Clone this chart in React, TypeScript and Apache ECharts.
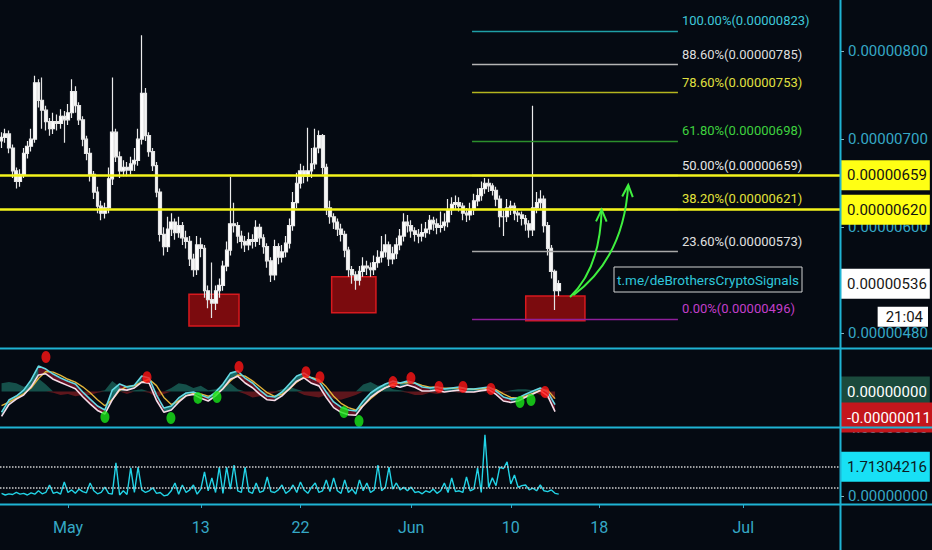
import React, { useEffect, useRef } from "react";
import * as echarts from "echarts";

// ---------- DATA (price values in units of 1e-8) ----------
const CANDLE_START_DAY = -6; // Apr 25, days counted from May 1
const CANDLES_PER_DAY = 3;
const firstOpen = 698;
const closes = [
  702, 706, 690, 664, 652, 660, 684, 692, 700, 764,
  744, 733, 720, 712, 720, 718, 726, 722, 730, 754,
  738, 722, 700, 684, 660, 640, 624, 616, 622, 655,
  708, 680, 664, 668, 665, 672, 676, 700, 752, 704,
  686, 670, 640, 592, 578, 598, 606, 594, 602, 588,
  584, 564, 552, 580, 576, 528, 518, 514, 528, 534,
  556, 574, 604, 602, 590, 584, 580, 586, 584, 600,
  588, 578, 562, 546, 578, 566, 572, 582, 602, 628,
  650, 664, 658, 664, 672, 690, 704, 668, 622, 612,
  606, 598, 592, 574, 552, 546, 540, 550, 556, 554,
  552, 560, 566, 572, 580, 564, 570, 580, 590, 606,
  602, 596, 592, 590, 594, 598, 608, 604, 600, 602,
  606, 620, 626, 628, 624, 616, 614, 620, 630, 636,
  644, 650, 647, 642, 632, 612, 612, 622, 624, 616,
  614, 610, 604, 597, 622, 628, 632, 602, 576, 550,
  528, 536,
];
const highs = [
  708, 712, 710, 694, 668, 666, 690, 698, 712, 772,
  768, 770, 738, 724, 730, 728, 734, 732, 740, 768,
  760, 742, 726, 704, 690, 664, 646, 630, 628, 668,
  770, 712, 686, 676, 674, 680, 690, 712, 818, 758,
  708, 690, 674, 644, 600, 612, 616, 610, 612, 606,
  596, 590, 570, 590, 588, 580, 534, 560, 534, 542,
  562, 584, 657, 628, 606, 596, 590, 594, 592, 608,
  604, 592, 582, 566, 586, 582, 580, 590, 610, 640,
  662, 672, 670, 713, 690, 712, 710, 706, 672, 630,
  616, 610, 604, 596, 578, 556, 550, 556, 566, 562,
  560, 568, 574, 590, 592, 584, 578, 588, 598, 616,
  614, 608, 600, 598, 604, 606, 614, 612, 610, 618,
  616, 632, 634, 636, 634, 628, 622, 628, 638, 644,
  652, 656, 655, 650, 646, 636, 620, 632, 630, 628,
  620, 618, 614, 608, 738, 640, 642, 636, 606, 580,
  552, 540,
];
const lows = [
  690, 696, 684, 656, 644, 646, 656, 678, 686, 696,
  736, 712, 710, 704, 706, 710, 712, 696, 716, 724,
  730, 716, 692, 676, 652, 632, 616, 608, 610, 616,
  648, 674, 656, 658, 658, 660, 664, 670, 694, 698,
  680, 664, 634, 584, 568, 572, 590, 586, 588, 580,
  576, 556, 544, 546, 566, 520, 508, 497, 506, 520,
  528, 550, 568, 594, 582, 576, 572, 574, 576, 578,
  580, 570, 554, 538, 540, 558, 560, 566, 576, 596,
  622, 644, 650, 652, 656, 666, 684, 660, 614, 604,
  598, 590, 584, 566, 544, 536, 529, 534, 544, 546,
  544, 546, 554, 560, 566, 556, 558, 564, 574, 584,
  594, 588, 584, 582, 584, 588, 592, 596, 592, 594,
  596, 600, 614, 620, 618, 608, 606, 608, 614, 624,
  630, 638, 640, 636, 624, 600, 590, 606, 614, 608,
  606, 602, 596, 588, 590, 616, 620, 594, 568, 542,
  506, 522,
];

// oscillator (units of 1e-8), one point every 2 candles
const OSC_STEP_CANDLES = 2;
const oscFast = [
  -8.7, -3.6, -1.9, 0.6, 4.9, 10.8, 9.5, 7.4, 5.7, 4.4,
  3.2, -0.2, -3.2, -6.1, -7.8, 0.6, 3.2, 1.9, 2.7, 6.6,
  5.7, -1.5, -7.0, -6.1, -2.7, -0.6, -0.2, -1.5, -2.7, -0.2,
  3.2, 7.8, 8.7, 5.7, 3.6, 0.6, -1.9, -2.3, -0.2, 3.2,
  6.6, 7.8, 5.7, 4.4, -0.2, -4.4, -6.6, -7.8, -8.2, -4.0,
  -0.6, 1.5, 3.2, 4.4, 3.6, 4.4, 3.6, 1.9, 1.5, 1.9,
  1.1, 1.5, 1.9, 1.1, 1.1, 1.5, 1.9, 0.2, -2.3, -3.2,
  -2.7, -1.1, 0.2, 1.5, -0.2, -5.5,
];
const oscSlow = [
  -10.5, -5.5, -3.2, -1.5, 2.0, 7.0, 7.5, 5.2, 3.8, 2.5,
  1.2, -2.2, -5.2, -8.0, -9.5, -3.5, 1.0, 0.6, 1.5, 4.0,
  3.5, -3.8, -8.8, -7.8, -4.5, -1.8, -1.2, -2.8, -4.0, -1.8,
  1.2, 5.2, 6.5, 3.6, 1.6, -1.2, -3.5, -3.8, -1.8, 1.2,
  4.4, 5.8, 3.5, 2.4, -2.5, -6.8, -8.8, -9.8, -10.0, -6.0,
  -2.5, -0.2, 1.6, 2.8, 1.8, 2.8, 1.8, 0.2, 0.2, 0.6,
  -0.2, 0.2, 0.6, -0.2, -0.2, 0.4, 0.8, -1.2, -4.0, -4.6,
  -4.0, -2.4, -1.0, 0.4, -1.8, -8.5,
];
const oscSignal = [
  -6.0, -4.5, -2.8, -1.0, 1.5, 5.5, 8.5, 8.2, 6.8, 5.2,
  4.0, 2.0, -0.5, -3.5, -6.0, -3.5, 0.5, 2.2, 2.4, 4.0,
  5.2, 2.5, -2.5, -5.5, -4.0, -1.8, -0.8, -1.0, -2.0, -1.2,
  1.2, 4.5, 7.0, 6.5, 4.5, 2.0, -0.5, -2.0, -1.2, 1.0,
  4.0, 6.2, 6.0, 5.0, 2.0, -2.0, -5.0, -6.8, -7.8, -6.0,
  -3.0, -0.5, 1.6, 3.2, 3.6, 3.8, 3.6, 2.6, 1.8, 1.8,
  1.4, 1.4, 1.6, 1.2, 1.0, 1.2, 1.6, 0.8, -1.0, -2.5,
  -2.8, -2.0, -0.8, 0.6, 0.6, -3.0,
];
const oscHist = [
  3.5, 4.0, 3.5, 2.0, 3.0, 5.5, 3.0, -0.5, -1.5, -1.0,
  -2.0, -1.5, -1.5, -0.5, 0.5, 4.5, 2.0, -1.0, 0.5, 1.0,
  -0.5, -2.5, -1.0, 1.5, 3.5, 3.0, 1.5, 2.5, 0.5, 1.0,
  2.5, 3.5, 1.0, -1.0, -2.5, -2.0, -1.5, -0.5, 1.0, 2.0,
  1.0, -1.5, -2.0, -2.5, -1.5, -3.0, -3.5, -2.5, -1.5, 3.0,
  4.0, 2.5, 3.0, 1.0, 0.5, -0.5, -1.5, -1.5, -0.5, -1.0,
  -0.5, 0.5, -0.5, 0.5, -0.5, 0.5, -0.5, -1.0, -0.5, 0.5,
  1.0, 1.0, 0.5, -1.5, -3.0, -3.0,
];
// signal dots: [day, value]
const sellDots = [
  [-1.99, 14.6], [7.14, 6.1], [15.45, 10.4], [21.5, 8.2], [22.76, 6.1],
  [29.36, 4.0], [30.98, 5.7], [33.51, 1.9], [35.68, 1.9], [38.21, 1.1], [43.09, -0.2],
];
const buyDots = [
  [3.34, -10.8], [9.3, -11.2], [11.74, -2.7], [13.46, -2.3],
  [24.93, -8.7], [26.29, -12.5], [40.83, -4.4], [41.83, -3.6],
];
const oscZero = 0;
const oscLast = -11;

// lower indicator, one value per candle
const volume = [
  0.15, 0.05, 0.12, 0.08, 0.2, 0.1, 0.15, 0.05, 0.18, 0.1,
  0.3, 0.12, 0.2, 0.64, 0.15, 0.22, 0.1, 0.82, 0.2, 0.35,
  0.15, 0.4, 0.25, 0.18, 0.76, 0.3, 0.12, 0.2, 0.52, 0.15,
  0.1, 1.94, 0.05, 0.3, 0.08, 1.65, 0.2, 1.7, 0.35, 0.2,
  0.3, 0.47, 0.15, 0.2, 0.0, 0.05, 0.3, 0.76, 0.1, 0.64,
  0.2, 0.35, 0.64, 0.1, 0.4, 1.41, 0.3, 1.06, 0.2, 1.7,
  0.15, 1.7, 0.4, 1.82, 0.3, 0.2, 1.7, 0.25, 0.15, 0.76,
  0.2, 0.3, 1.11, 0.25, 0.2, 0.35, 0.64, 0.15, 0.3, 0.64,
  0.2, 0.82, 0.35, 0.15, 0.5, 0.76, 0.2, 0.3, 0.94, 0.25,
  1.06, 0.3, 0.15, 0.94, 0.2, 0.4, 0.1, 0.94, 0.3, 0.76,
  0.2, 0.35, 1.82, 0.3, 0.5, 1.7, 0.4, 0.76, 0.35, 0.5,
  0.3, 0.52, 0.2, 0.25, 0.12, 0.3, 0.2, 0.4, 0.15, 0.3,
  0.76, 0.2, 1.06, 0.25, 0.3, 0.2, 1.11, 0.3, 0.4, 1.65,
  0.2, 3.6, 0.5, 1.06, 0.6, 1.7, 1.6, 2.0, 0.7, 1.23,
  0.5, 0.6, 0.64, 0.35, 0.45, 0.3, 0.64, 0.3, 0.25, 0.35,
  0.15, 0.1,
];
const volUpperBand = 1.71304216;
const volLowerBand = 0.5;

// axes
const X_MIN_DAY = -6.14;
const X_MAX_DAY = 69.74;
const xTickDays = [0, 12, 21, 31, 40, 48, 61];
const xTickLabels = ["May", "13", "22", "Jun", "10", "18", "Jul"];
const priceTicks = [800, 700, 600, 480];
const PRICE_MIN = 463;
const PRICE_MAX = 858;
const OSC_MIN = -15;
const OSC_MAX = 18;
const VOL_MIN = -0.48;
const VOL_MAX = 4;
const volTicks = [0, 4];

// fibonacci retracement
const fibStartDay = 36.5;
const fibEndDay = 55.1;
const fibRatios = ["100.00%", "88.60%", "78.60%", "61.80%", "50.00%", "38.20%", "23.60%", "0.00%"];
const fibValues = [823, 785, 753, 698, 659, 621, 573, 496];

// horizontal levels and last price
const resistanceLevels = [659, 620];
const lastPrice = 536;
const countdown = "21:04";

// support zones: [dayFrom, priceTop, dayTo, priceBottom]
const supportZones = [
  [10.93, 524, 15.45, 488],
  [23.82, 544, 27.82, 503],
  [41.35, 522, 46.7, 494],
];
// projection arrows: [start, control, end] as [day, price]
const arrows = [
  [[45.35, 521], [48.06, 553], [48.21, 620]],
  [[45.65, 523], [50.2, 565], [50.61, 648]],
];
const watermark = "t.me/deBrothersCryptoSignals";

// ---------- STYLE ----------
const BG = "#050a12";
const AXIS_TEXT = "#35a8c6";
const SEP = "#1fb3d3";
const FONT = "Roboto, 'Liberation Sans', sans-serif";
const fibLineColors = ["#1f9fa6", "#b4b4b4", "#b5b51f", "#2c8f2c", "#b4b4b4", "#b5b51f", "#a8a8a8", "#8f1f9a"];
const fibTextColors = ["#3fc7d8", "#dedede", "#e0e040", "#3fd23f", "#e6e6e6", "#e3e33a", "#e0e0e0", "#c33fca"];

const candleDay = (i: number) => CANDLE_START_DAY + i / CANDLES_PER_DAY;
const oscDay = (k: number) => candleDay(k * OSC_STEP_CANDLES);
const fmt8 = (v: number) => (v / 1e8).toFixed(8);
const HIDDEN = "rgba(0,0,0,0)";

export default function App() {
  const ref = useRef<HTMLDivElement>(null);

  useEffect(() => {
    document.body.style.margin = "0";
    document.body.style.background = BG;
    const chart = echarts.init(ref.current!, undefined, { renderer: "svg" });

    const candleData = closes.map((c, i) => [
      candleDay(i),
      i === 0 ? firstOpen : closes[i - 1],
      c,
      lows[i],
      highs[i],
    ]);

    const grids = [
      { left: 0, right: 92, top: 0, height: 348 },
      { left: 0, right: 92, top: 349, height: 78 },
      { left: 0, right: 92, top: 428, height: 76 },
    ];

    const baseX = (gridIndex: number, show: boolean) => ({
      type: "value",
      gridIndex,
      min: X_MIN_DAY,
      max: X_MAX_DAY,
      splitLine: { show: false },
      axisLine: { show: false, onZero: false },
      axisTick: show
        ? { show: true, customValues: xTickDays, length: 4, lineStyle: { color: AXIS_TEXT, width: 1 } }
        : { show: false },
      axisLabel: show
        ? {
            show: true,
            customValues: xTickDays,
            margin: 15,
            color: AXIS_TEXT,
            fontSize: 16,
            fontFamily: FONT,
            formatter: (v: number) => {
              const idx = xTickDays.findIndex((d) => Math.abs(d - v) < 1e-6);
              return idx >= 0 ? xTickLabels[idx] : "";
            },
          }
        : { show: false },
    });

    const boxLabel = (text: string, bg: string, color: string) => ({
      show: true,
      position: "end",
      distance: 1,
      formatter: text,
      backgroundColor: bg,
      color,
      fontSize: 15,
      fontFamily: FONT,
      padding: [8, 3, 7, 6],
    });

    const fibMarks = fibValues.map((v, j) => [
      {
        coord: [fibStartDay, v],
        lineStyle: { color: fibLineColors[j], width: 1.3, type: "solid" },
        label: {
          show: true,
          position: "end",
          distance: 4,
          offset: [0, -10],
          formatter: `${fibRatios[j]}(${fmt8(v)})`,
          color: fibTextColors[j],
          fontSize: 13,
          fontFamily: FONT,
        },
      },
      { coord: [fibEndDay, v] },
    ]);

    const option: any = {
      animation: false,
      backgroundColor: BG,
      grid: grids,
      xAxis: [baseX(0, false), baseX(1, false), baseX(2, true)],
      yAxis: [
        {
          type: "value",
          gridIndex: 0,
          position: "right",
          min: PRICE_MIN,
          max: PRICE_MAX,
          splitLine: { show: false },
          axisLine: { show: false, onZero: false },
          axisTick: { show: true, customValues: priceTicks, length: 4, lineStyle: { color: "#8fb5c0" } },
          axisLabel: {
            customValues: priceTicks,
            margin: 8,
            color: AXIS_TEXT,
            fontSize: 15,
            fontFamily: FONT,
            formatter: (v: number) => fmt8(v),
          },
        },
        {
          type: "value",
          gridIndex: 1,
          position: "right",
          min: OSC_MIN,
          max: OSC_MAX,
          splitLine: { show: false },
          axisLine: { show: false, onZero: false },
          axisTick: { show: false },
          axisLabel: { show: false },
        },
        {
          type: "value",
          gridIndex: 2,
          position: "right",
          min: VOL_MIN,
          max: VOL_MAX,
          splitLine: { show: false },
          axisLine: { show: false, onZero: false },
          axisTick: { show: true, customValues: volTicks, length: 4, lineStyle: { color: "#8fb5c0" } },
          axisLabel: {
            customValues: volTicks,
            margin: 8,
            color: AXIS_TEXT,
            fontSize: 15,
            fontFamily: FONT,
            formatter: (v: number) => v.toFixed(8),
          },
        },
      ],
      series: [
        {
          type: "candlestick",
          xAxisIndex: 0,
          yAxisIndex: 0,
          data: candleData,
          encode: { x: 0, y: [1, 2, 3, 4] },
          barWidth: 3.4,
          itemStyle: {
            color: "#ffffff",
            color0: "#f6f6f6",
            borderColor: "#ececec",
            borderColor0: "#e4e4e4",
            borderWidth: 1.2,
          },
          markArea: {
            silent: true,
            itemStyle: {
              color: "rgba(150,12,14,0.82)",
              borderColor: "#d8191e",
              borderWidth: 1.5,
            },
            data: supportZones.map((z) => [{ coord: [z[0], z[1]] }, { coord: [z[2], z[3]] }]),
          },
          markLine: {
            silent: true,
            symbol: ["none", "none"],
            data: [
              ...fibMarks,
              ...resistanceLevels.map((v) => ({
                yAxis: v,
                lineStyle: { color: "#f4f41c", width: 2.5, type: "solid" },
                label: boxLabel(fmt8(v), "#ffff14", "#121212"),
              })),
              {
                yAxis: lastPrice,
                lineStyle: { color: HIDDEN, width: 0 },
                label: boxLabel(fmt8(lastPrice), "#ffffff", "#161616"),
              },
            ],
          },
        },
        {
          type: "line",
          xAxisIndex: 1,
          yAxisIndex: 1,
          data: oscHist.map((h, k) => [oscDay(k), Math.max(0, h)]),
          symbol: "none",
          lineStyle: { width: 0 },
          areaStyle: { color: "#15504a", opacity: 1 },
          z: 1,
        },
        {
          type: "line",
          xAxisIndex: 1,
          yAxisIndex: 1,
          data: oscHist.map((h, k) => [oscDay(k), Math.min(0, h)]),
          symbol: "none",
          lineStyle: { width: 0 },
          areaStyle: { color: "#5e161c", opacity: 1 },
          z: 1,
        },
        {
          type: "custom",
          xAxisIndex: 1,
          yAxisIndex: 1,
          data: oscFast.map((v, k) => [oscDay(k), v, oscSlow[k], k]),
          encode: { x: 0, y: [1, 2] },
          z: 2,
          renderItem: (_p: any, api: any) => {
            const k = api.value(3);
            if (k >= oscFast.length - 1) return null;
            const p1 = api.coord([oscDay(k), oscFast[k]]);
            const p2 = api.coord([oscDay(k + 1), oscFast[k + 1]]);
            const p3 = api.coord([oscDay(k + 1), oscSlow[k + 1]]);
            const p4 = api.coord([oscDay(k), oscSlow[k]]);
            const rising = oscFast[k + 1] >= oscFast[k];
            return {
              type: "polygon",
              shape: { points: [p1, p2, p3, p4] },
              style: { fill: rising ? "rgba(40,170,160,0.6)" : "rgba(150,20,45,0.65)" },
            };
          },
        },
        {
          type: "line",
          xAxisIndex: 1,
          yAxisIndex: 1,
          data: oscSignal.map((v, k) => [oscDay(k), v]),
          symbol: "none",
          lineStyle: { color: "#e2b43a", width: 1.4 },
          z: 3,
        },
        {
          type: "line",
          xAxisIndex: 1,
          yAxisIndex: 1,
          data: oscSlow.map((v, k) => [oscDay(k), v]),
          symbol: "none",
          lineStyle: { color: "#f6dce8", width: 1.6 },
          z: 3,
        },
        {
          type: "line",
          xAxisIndex: 1,
          yAxisIndex: 1,
          data: oscFast.map((v, k) => [oscDay(k), v]),
          symbol: "none",
          lineStyle: { color: "#66d9e4", width: 1.6 },
          z: 3,
          markLine: {
            silent: true,
            symbol: ["none", "none"],
            data: [
              { yAxis: oscZero, lineStyle: { color: HIDDEN, width: 0 }, label: boxLabel(fmt8(oscZero), "#1b4a3c", "#ffffff") },
              { yAxis: oscLast, lineStyle: { color: HIDDEN, width: 0 }, label: boxLabel(fmt8(oscLast), "#c4161c", "#ffffff") },
            ],
          },
        },
        {
          type: "scatter",
          xAxisIndex: 1,
          yAxisIndex: 1,
          data: sellDots,
          symbol: "circle",
          symbolSize: [9, 12],
          itemStyle: { color: "#ff1414" },
          z: 5,
        },
        {
          type: "scatter",
          xAxisIndex: 1,
          yAxisIndex: 1,
          data: buyDots,
          symbol: "circle",
          symbolSize: [9, 12],
          itemStyle: { color: "#19e619" },
          z: 5,
        },
        {
          type: "line",
          xAxisIndex: 2,
          yAxisIndex: 2,
          data: volume.map((v, i) => [candleDay(i), v]),
          symbol: "none",
          lineStyle: { color: "#22d3e6", width: 1.4 },
          markLine: {
            silent: true,
            symbol: ["none", "none"],
            data: [
              {
                yAxis: volUpperBand,
                lineStyle: { color: "#cfcfcf", width: 1.5, type: "dotted" },
                label: boxLabel(volUpperBand.toFixed(8), "#18e0f5", "#0b1a22"),
              },
              {
                yAxis: volLowerBand,
                lineStyle: { color: "#cfcfcf", width: 1.5, type: "dotted" },
                label: { show: false },
              },
            ],
          },
        },
      ],
    };

    chart.setOption(option);

    // annotations positioned from data coordinates
    const px = (p: number[]) => chart.convertToPixel({ xAxisIndex: 0, yAxisIndex: 0 }, p) as number[];
    const arrowEls: any[] = [];
    arrows.forEach(([s, c, e]) => {
      const ps = px(s), pc = px(c), pe = px(e);
      const ang = Math.atan2(pe[1] - pc[1], pe[0] - pc[0]);
      const L = 13, sp = 0.42;
      const a1 = [pe[0] - L * Math.cos(ang - sp), pe[1] - L * Math.sin(ang - sp)];
      const a2 = [pe[0] - L * Math.cos(ang + sp), pe[1] - L * Math.sin(ang + sp)];
      arrowEls.push({
        type: "bezierCurve",
        shape: { x1: ps[0], y1: ps[1], x2: pe[0], y2: pe[1], cpx1: pc[0], cpy1: pc[1] },
        style: { stroke: "#3ff03f", lineWidth: 2, fill: null },
        z: 20,
      });
      arrowEls.push({
        type: "polyline",
        shape: { points: [a1, pe, a2] },
        style: { stroke: "#3ff03f", lineWidth: 2, fill: null },
        z: 20,
      });
    });
    const lastY = px([0, lastPrice])[1];

    chart.setOption({
      graphic: [
        { type: "line", shape: { x1: 0, y1: 348.5, x2: 932, y2: 348.5 }, style: { stroke: SEP, lineWidth: 2 }, z: 30 },
        { type: "line", shape: { x1: 0, y1: 427.5, x2: 932, y2: 427.5 }, style: { stroke: SEP, lineWidth: 2 }, z: 30 },
        { type: "line", shape: { x1: 0, y1: 504.5, x2: 932, y2: 504.5 }, style: { stroke: SEP, lineWidth: 2 }, z: 30 },
        { type: "line", shape: { x1: 840.5, y1: 0, x2: 840.5, y2: 550 }, style: { stroke: SEP, lineWidth: 2 }, z: 30 },
        ...arrowEls,
        {
          type: "rect",
          shape: { x: 614, y: 267, width: 188, height: 25 },
          style: { fill: "rgba(5,10,18,0.9)", stroke: "#d2d2d2", lineWidth: 1 },
          z: 20,
        },
        {
          type: "text",
          x: 708,
          y: 279.5,
          style: {
            text: watermark,
            fill: "#2fc6da",
            font: `13.5px ${FONT}`,
            align: "center",
            verticalAlign: "middle",
          },
          z: 21,
        },
        {
          type: "text",
          x: 928,
          y: lastY + 33,
          style: {
            text: countdown,
            fill: "#161616",
            font: `15px ${FONT}`,
            align: "right",
            verticalAlign: "middle",
            backgroundColor: "#ffffff",
            padding: [3, 5, 2, 8],
          },
          z: 21,
        },
      ],
    });

    return () => chart.dispose();
  }, []);

  return (
    <div
      ref={ref}
      style={{ position: "fixed", left: 0, top: 0, width: 932, height: 550, background: BG }}
    />
  );
}
